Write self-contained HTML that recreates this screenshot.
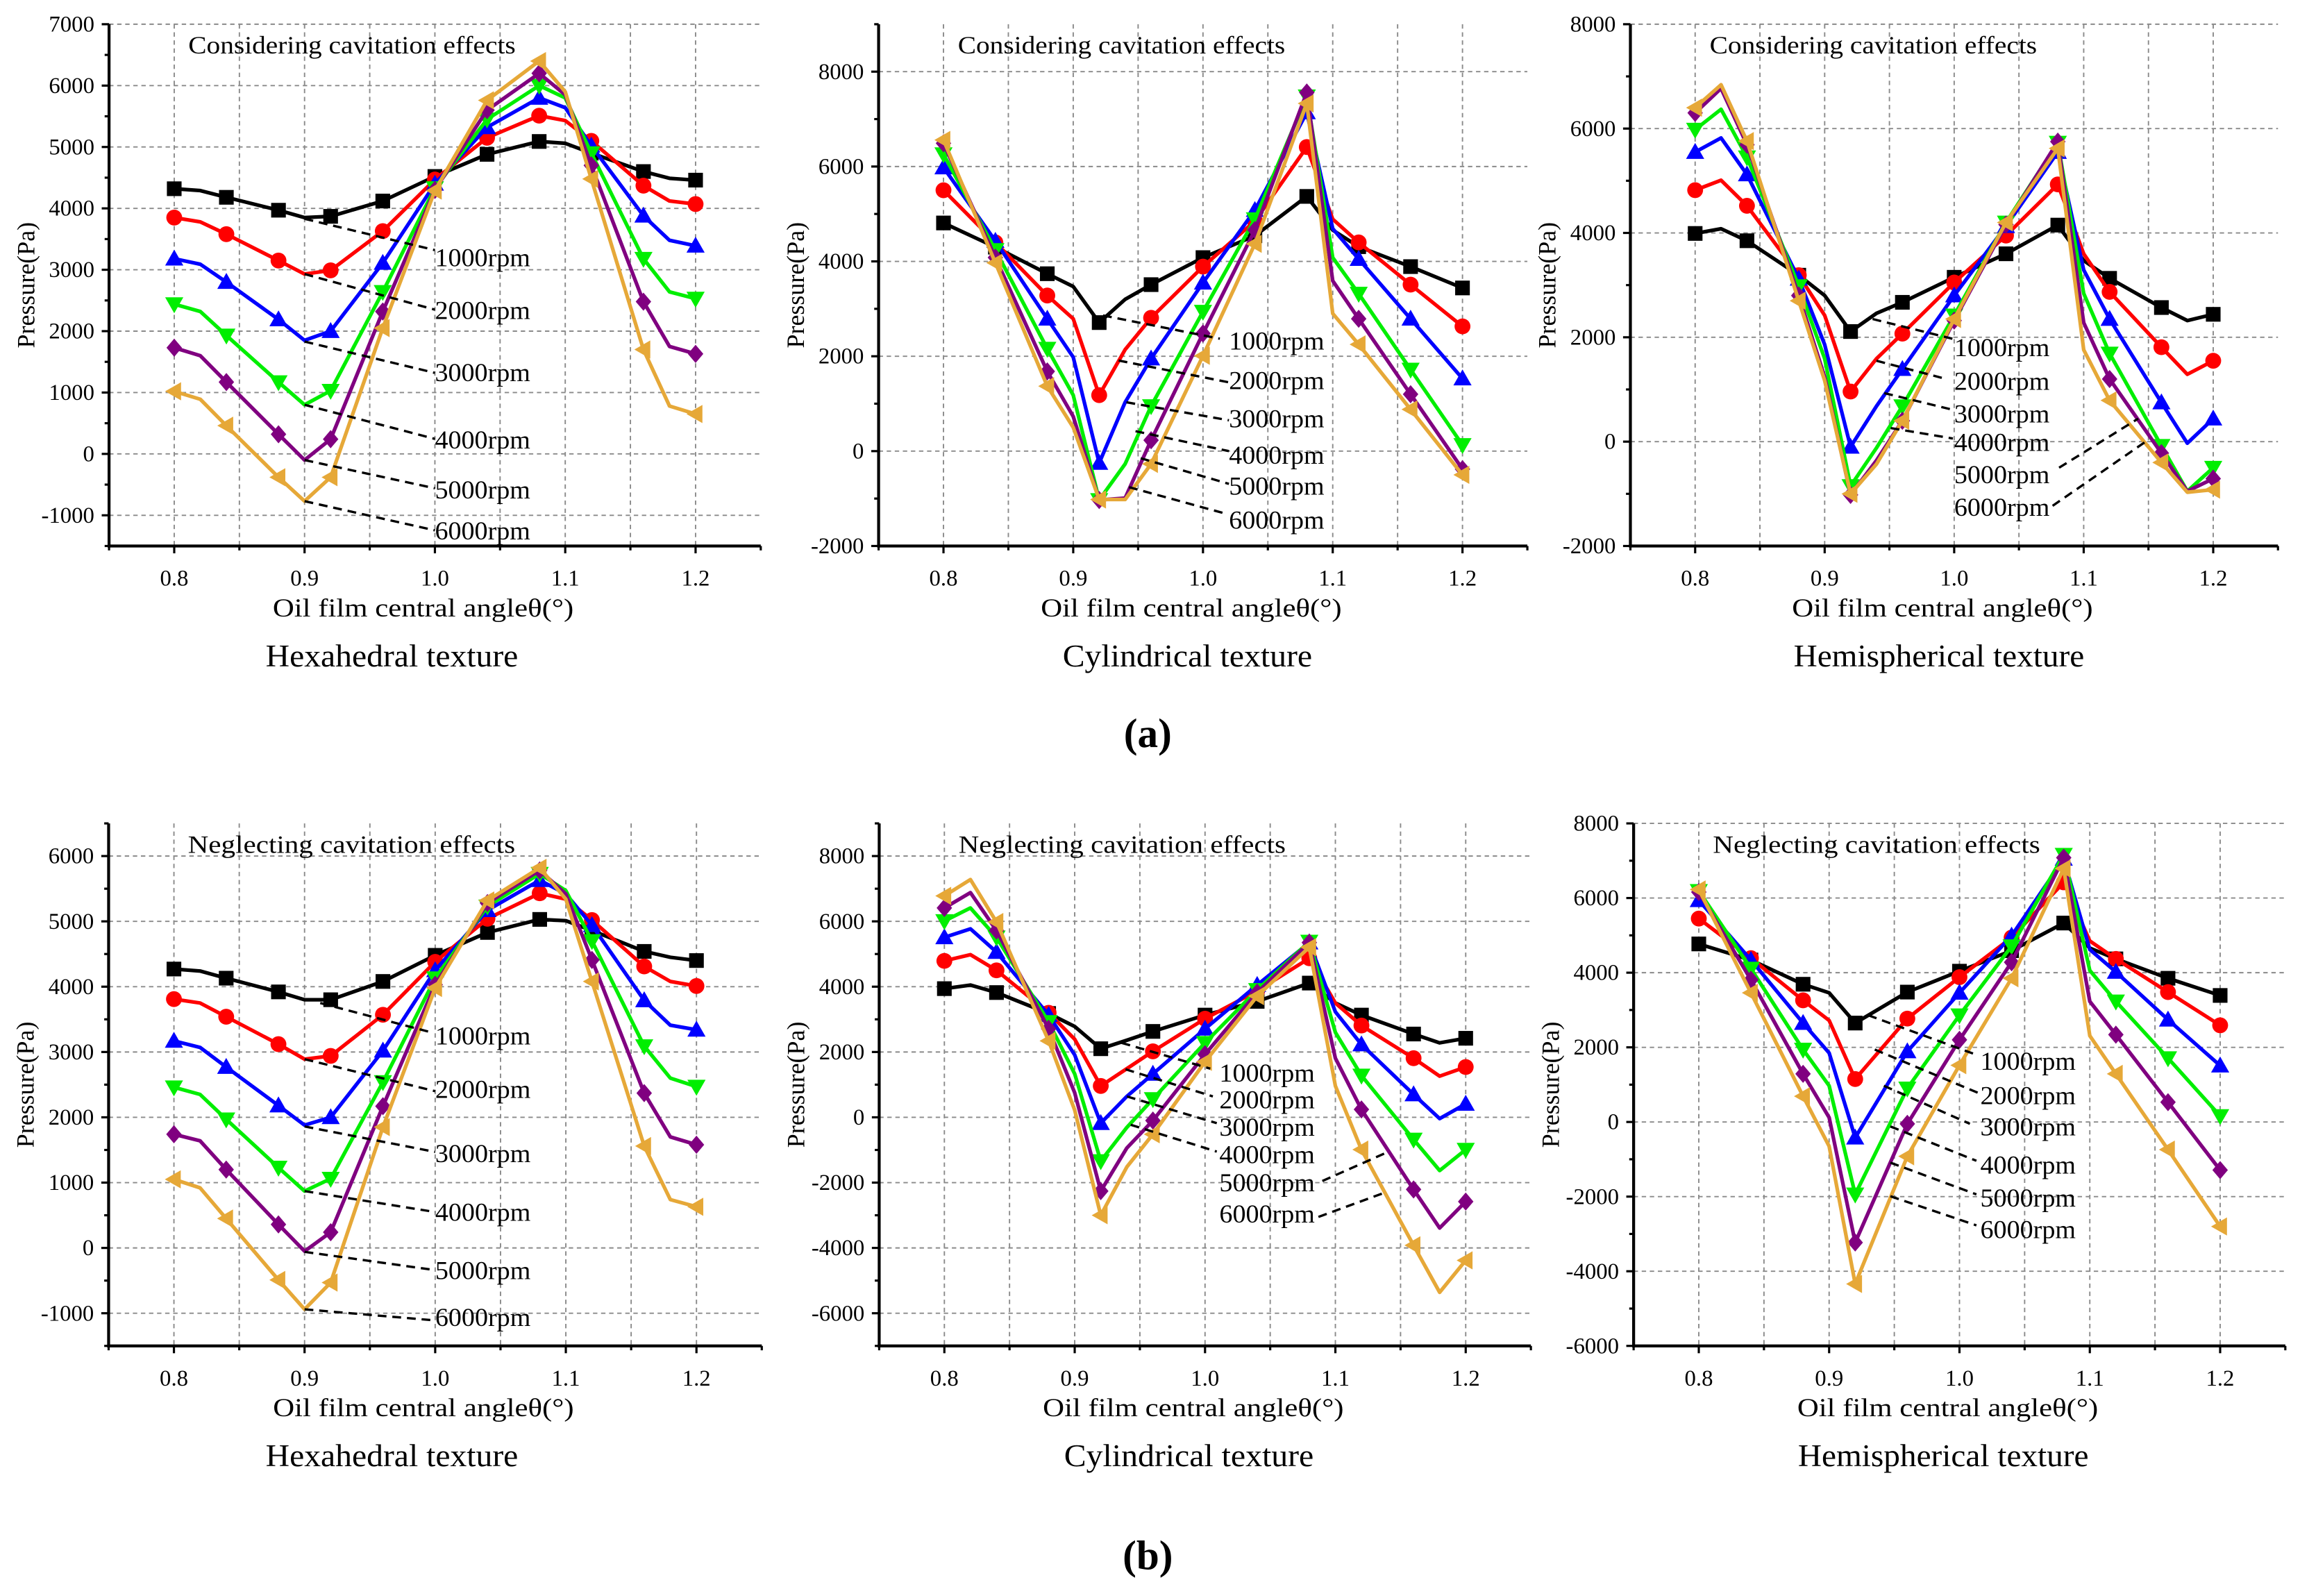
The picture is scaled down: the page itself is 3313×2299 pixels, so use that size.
<!DOCTYPE html>
<html><head><meta charset="utf-8"><style>
html,body{margin:0;padding:0;background:#fff;}
svg{display:block;font-family:"Liberation Serif",serif;}
</style></head><body>
<svg id="fig" xmlns="http://www.w3.org/2000/svg" width="3313" height="2299" viewBox="0 0 1567 1087.4"></svg>
<script>
// ---------- DATA ----------
const rpmLabels = ["1000rpm","2000rpm","3000rpm","4000rpm","5000rpm","6000rpm"];
const seriesColors = ["#000000","#ff0000","#0000ff","#00ee00","#800080","#e6a838"];
const markerShapes = ["square","circle","up","down","diamond","left"];
const xTickLabels = ["0.8","0.9","1.0","1.1","1.2"];
const xTickValues = [0.8,0.9,1.0,1.1,1.2];

const p1X = [0.8,0.82,0.84,0.88,0.9,0.92,0.96,1.0,1.04,1.08,1.1,1.12,1.16,1.18,1.2];
const p1S1000 = [4320,4290,4180,3970,3850,3870,4120,4520,4880,5090,5060,4900,4600,4490,4460];
const p1S2000 = [3850,3780,3580,3150,2930,2990,3630,4470,5150,5510,5430,5100,4370,4120,4070];
const p1S3000 = [3180,3090,2800,2190,1850,2000,3110,4400,5320,5800,5640,5020,3880,3480,3390];
const p1S4000 = [2440,2320,1930,1170,800,1030,2640,4330,5450,6000,5800,4900,3180,2640,2530];
const p1S5000 = [1730,1600,1170,320,-100,240,2320,4300,5600,6200,5850,4700,2480,1750,1630];
const p1S6000 = [1020,890,460,-380,-770,-380,2050,4290,5760,6400,5900,4480,1700,780,650];
const p1YTicks = [-1000,0,1000,2000,3000,4000,5000,6000,7000];

const p2X = [0.8,0.84,0.88,0.9,0.92,0.94,0.96,1.0,1.04,1.08,1.1,1.12,1.16,1.2];
const p2S1000 = [4810,4300,3740,3470,2710,3200,3510,4080,4540,5370,4660,4310,3890,3440];
const p2S2000 = [5500,4400,3280,2790,1180,2140,2810,3890,4850,6410,4890,4400,3510,2630];
const p2S3000 = [5980,4430,2790,1980,-250,1030,1950,3550,5080,7140,4690,4050,2790,1530];
const p2S4000 = [6260,4240,2160,1180,-1030,-270,950,2940,4890,7480,4080,3320,1720,130];
const p2S5000 = [6490,4080,1680,730,-1030,-990,230,2480,4660,7560,3590,2790,1200,-380];
const p2S6000 = [6560,3970,1370,500,-1020,-1020,-270,2010,4370,7330,2900,2250,880,-500];
const p2YTicks = [-2000,0,2000,4000,6000,8000];

const p3X = [0.8,0.82,0.84,0.88,0.9,0.92,0.94,0.96,1.0,1.04,1.08,1.1,1.12,1.16,1.18,1.2];
const p3S1000 = [3990,4080,3850,3190,2800,2110,2460,2670,3150,3600,4150,3470,3130,2570,2320,2440];
const p3S2000 = [4820,5010,4520,3190,2420,960,1590,2070,3050,3950,4930,3600,2870,1810,1290,1550];
const p3S3000 = [5550,5820,5120,3120,1860,-100,680,1390,2800,4130,5550,3290,2350,750,-30,440];
const p3S4000 = [5980,6370,5450,2980,1590,-850,-120,680,2420,4200,5730,2840,1690,-80,-950,-500];
const p3S5000 = [6300,6770,5690,2800,1240,-1020,-360,400,2320,4160,5750,2280,1200,-220,-950,-710];
const p3S6000 = [6400,6840,5760,2700,1170,-1000,-430,400,2350,4200,5620,1760,790,-400,-970,-920];
const p3YTicks = [-2000,0,2000,4000,6000,8000];

const p4X = [0.8,0.82,0.84,0.88,0.9,0.92,0.96,1.0,1.04,1.08,1.1,1.12,1.16,1.18,1.2];
const p4S1000 = [4270,4240,4130,3920,3800,3800,4080,4480,4830,5030,5010,4860,4540,4450,4400];
const p4S2000 = [3810,3750,3540,3120,2890,2940,3570,4380,5040,5430,5340,5020,4310,4080,4010];
const p4S3000 = [3170,3070,2770,2180,1880,2000,3020,4250,5170,5630,5420,4940,3790,3410,3340];
const p4S4000 = [2460,2350,1970,1230,870,1060,2540,4130,5230,5730,5470,4700,3090,2600,2470];
const p4S5000 = [1740,1640,1200,360,-50,240,2170,4030,5280,5780,5420,4410,2370,1700,1580];
const p4S6000 = [1050,920,450,-490,-940,-530,1850,3980,5320,5820,5340,4080,1560,740,630];
const p4YTicks = [-1000,0,1000,2000,3000,4000,5000,6000];

const p5X = [0.8,0.82,0.84,0.88,0.9,0.92,0.94,0.96,1.0,1.04,1.08,1.1,1.12,1.16,1.18,1.2];
const p5S1000 = [3940,4050,3820,3180,2780,2100,2360,2630,3130,3550,4110,3500,3130,2550,2280,2420];
const p5S2000 = [4790,4980,4500,3200,2390,960,1490,2020,3020,3870,4870,3500,2810,1810,1260,1540];
const p5S3000 = [5510,5770,5060,3130,1910,-180,640,1330,2710,4050,5350,3230,2230,700,-40,410];
const p5S4000 = [6010,6410,5510,2920,1330,-1340,-310,560,2280,3900,5380,2600,1280,-680,-1630,-990];
const p5S5000 = [6410,6880,5720,2710,750,-2260,-940,-100,1930,3820,5350,1810,240,-2210,-3390,-2580];
const p5S6000 = [6780,7280,5980,2340,220,-3000,-1520,-520,1700,3710,5210,960,-990,-3920,-5360,-4380];
const p5YTicks = [-6000,-4000,-2000,0,2000,4000,6000,8000];

const p6X = [0.8,0.84,0.88,0.9,0.92,0.96,1.0,1.04,1.08,1.1,1.12,1.16,1.2];
const p6S1000 = [4770,4340,3690,3460,2650,3480,4040,4590,5330,4660,4370,3850,3390];
const p6S2000 = [5450,4390,3260,2720,1150,2770,3880,4940,6420,4850,4370,3480,2590];
const p6S3000 = [5940,4340,2650,1850,-420,1890,3460,4990,7050,4620,4020,2740,1510];
const p6S4000 = [6190,4110,1940,970,-1940,900,2860,4710,7160,4060,3230,1710,160];
const p6S5000 = [6160,3810,1290,120,-3230,-50,2200,4280,7080,3230,2340,530,-1290];
const p6S6000 = [6230,3460,690,-650,-4340,-920,1520,3850,6790,2310,1290,-740,-2800];
const p6YTicks = [-6000,-4000,-2000,0,2000,4000,6000,8000];

const p1Leaders = [[0.9,3830,1.0,3320],[0.9,2930,1.0,2350],[0.9,1830,1.0,1320],[0.9,800,1.0,245],[0.9,-100,1.0,-560],[0.9,-770,1.0,-1245]];
const p1LabelPos = [[1.0,3200],[1.0,2340],[1.0,1330],[1.0,230],[1.0,-580],[1.0,-1250]];
const p2Leaders = [[0.923,2860,1.013,2370],[0.935,1910,1.02,1450],[0.941,1030,1.02,650],[0.948,420,1.02,0],[0.952,-150,1.02,-690],[0.943,-760,1.015,-1300]];
const p2LabelPos = [[1.02,2330],[1.02,1490],[1.02,690],[1.02,-80],[1.02,-730],[1.02,-1450]];
const p3Leaders = [[0.937,2350,0.999,1970],[0.94,1550,0.994,1200],[0.946,930,0.999,610],[0.951,260,0.999,60],[1.081,-500,1.142,440],[1.076,-1230,1.149,20]];
const p3LabelPos = [[1.0,1810],[1.0,1160],[1.0,540],[1.0,-10],[1.0,-630],[1.0,-1250]];
const p4Leaders = [[0.912,3750,0.997,3300],[0.9,2890,1.0,2400],[0.9,1860,1.0,1470],[0.9,870,1.0,550],[0.9,-60,1.0,-340],[0.9,-940,1.0,-1110]];
const p4LabelPos = [[1.0,3250],[1.0,2430],[1.0,1450],[1.0,550],[1.0,-340],[1.0,-1060]];
const p5Leaders = [[0.936,2280,1.004,1490],[0.939,1470,1.006,640],[0.94,640,1.009,-180],[0.943,-230,1.009,-1050],[1.09,-1950,1.141,-1050],[1.087,-3050,1.139,-2290]];
const p5LabelPos = [[1.011,1360],[1.011,540],[1.011,-290],[1.011,-1130],[1.011,-2000],[1.011,-2950]];
const p6Leaders = [[0.93,2860,1.013,1800],[0.935,1940,1.017,740],[0.942,970,1.008,-50],[0.947,-120,1.013,-1040],[0.947,-1090,1.013,-1940],[0.947,-1990,1.013,-2770]];
const p6LabelPos = [[1.016,1630],[1.016,710],[1.016,-120],[1.016,-1150],[1.016,-2030],[1.016,-2880]];

// ---------- LAYOUT ----------
const NS = "http://www.w3.org/2000/svg";
const svg = document.getElementById('fig');
function mk(tag, attrs, parent){
  const e = document.createElementNS(NS, tag);
  for (const k in attrs) e.setAttribute(k, attrs[k]);
  (parent||svg).appendChild(e);
  return e;
}
const panels = [
  {id:"a-hexahedral", X:p1X, S:[p1S1000,p1S2000,p1S3000,p1S4000,p1S5000,p1S6000], yt:p1YTicks, ymin:-1500, ymax:7000, L:p1Leaders, LP:p1LabelPos,
   g:{x0:74.3,x1:518.3,top:16.5,bot:372}, note:"Considering cavitation effects", title:"Hexahedral texture", tc:267, tw:172},
  {id:"a-cylindrical", X:p2X, S:[p2S1000,p2S2000,p2S3000,p2S4000,p2S5000,p2S6000], yt:p2YTicks, ymin:-2000, ymax:9000, L:p2Leaders, LP:p2LabelPos,
   g:{x0:598.6,x1:1040.6,top:16.5,bot:372}, note:"Considering cavitation effects", title:"Cylindrical texture", tc:809, tw:170},
  {id:"a-hemispherical", X:p3X, S:[p3S1000,p3S2000,p3S3000,p3S4000,p3S5000,p3S6000], yt:p3YTicks, ymin:-2000, ymax:8000, L:p3Leaders, LP:p3LabelPos,
   g:{x0:1110.8,x1:1552,top:16.5,bot:372}, note:"Considering cavitation effects", title:"Hemispherical texture", tc:1321, tw:198},
  {id:"b-hexahedral", X:p4X, S:[p4S1000,p4S2000,p4S3000,p4S4000,p4S5000,p4S6000], yt:p4YTicks, ymin:-1500, ymax:6500, L:p4Leaders, LP:p4LabelPos,
   g:{x0:74,x1:519,top:561,bot:917}, note:"Neglecting cavitation effects", title:"Hexahedral texture", tc:267, tw:172},
  {id:"b-cylindrical", X:p5X, S:[p5S1000,p5S2000,p5S3000,p5S4000,p5S5000,p5S6000], yt:p5YTicks, ymin:-7000, ymax:9000, L:p5Leaders, LP:p5LabelPos,
   g:{x0:599,x1:1043,top:561,bot:917}, note:"Neglecting cavitation effects", title:"Cylindrical texture", tc:810, tw:170},
  {id:"b-hemispherical", X:p6X, S:[p6S1000,p6S2000,p6S3000,p6S4000,p6S5000,p6S6000], yt:p6YTicks, ymin:-6000, ymax:8000, L:p6Leaders, LP:p6LabelPos,
   g:{x0:1113,x1:1557,top:561,bot:917}, note:"Neglecting cavitation effects", title:"Hemispherical texture", tc:1324, tw:198}
];

function drawMarker(parent, shape, cx, cy, color){
  const r = 5;
  let el;
  if (shape==="square") el = mk('rect',{x:cx-r,y:cy-r,width:2*r,height:2*r,fill:color},parent);
  else if (shape==="circle") el = mk('circle',{cx:cx,cy:cy,r:r+0.4,fill:color},parent);
  else {
    let pts;
    const s = r+1.2;
    if (shape==="up") pts=[[cx,cy-s],[cx+s,cy+s*0.75],[cx-s,cy+s*0.75]];
    else if (shape==="down") pts=[[cx,cy+s],[cx+s,cy-s*0.75],[cx-s,cy-s*0.75]];
    else if (shape==="left") pts=[[cx-s,cy],[cx+s*0.75,cy-s],[cx+s*0.75,cy+s]];
    else pts=[[cx,cy-s],[cx+s*0.85,cy],[cx,cy+s],[cx-s*0.85,cy]];
    el = mk('polygon',{points:pts.map(p=>p.join(',')).join(' '),fill:color},parent);
  }
  return el;
}

panels.forEach((P)=>{
  const g = P.g;
  const xs = v => g.x0 + (v-0.75)/0.5*(g.x1-g.x0);
  const ys = v => g.bot - (v-P.ymin)/(P.ymax-P.ymin)*(g.bot-g.top);
  const grp = mk('g',{});
  
  

  const grid = mk('g',{stroke:"#8a8a8a","stroke-width":0.9,"stroke-dasharray":"3,2.5",fill:"none"},grp);
  
  
  for (let i=0;i<=8;i++){ const v=0.8+i*0.05; mk('line',{x1:xs(v),x2:xs(v),y1:g.top,y2:g.bot},grid); }
  P.yt.forEach(v=>{ mk('line',{x1:g.x0,x2:g.x1,y1:ys(v),y2:ys(v)},grid); });

  const ax = mk('g',{stroke:"#000","stroke-width":2,fill:"none"},grp);
  
  
  mk('line',{x1:g.x0,x2:g.x0,y1:g.top,y2:g.bot+1},ax);
  mk('line',{x1:g.x0-1,x2:g.x1,y1:g.bot,y2:g.bot},ax);
  const step = P.yt[1]-P.yt[0];
  for (let v=P.ymin; v<=P.ymax+1; v+=step/2){
    const major = P.yt.indexOf(v)>=0;
    mk('line',{x1:g.x0-(major?5:3),x2:g.x0,y1:ys(v),y2:ys(v),"stroke-width":1.5},ax);
  }
  for (let i=0;i<=10;i++){ const v=0.75+i*0.05; const major=(i%2===1);
    mk('line',{x1:xs(v),x2:xs(v),y1:g.bot,y2:g.bot+(major?5:3),"stroke-width":1.5},ax); }

  P.yt.forEach(v=>{
    const t = mk('text',{x:g.x0-10,y:ys(v)+5,"text-anchor":"end","font-size":15.5},grp);
    t.textContent = String(v);
    
    
  });
  xTickValues.forEach((v,i)=>{
    const t = mk('text',{x:xs(v),y:g.bot+27,"text-anchor":"middle","font-size":15.5},grp);
    t.textContent = xTickLabels[i];
    
    
  });
  const cx = (g.x0+g.x1)/2, cy=(g.top+g.bot)/2;
  const yt = mk('text',{x:0,y:0,"text-anchor":"middle","font-size":17,transform:`translate(${g.x0-51},${cy}) rotate(-90)`},grp);
  yt.textContent = "Pressure(Pa)";
  
  
  const xt = mk('text',{x:cx-8,y:g.bot+48,"text-anchor":"middle","font-size":17.5,textLength:205,lengthAdjust:"spacingAndGlyphs"},grp);
  xt.textContent = "Oil film central angleθ(°)";
  
  
  const pt = mk('text',{x:P.tc,y:g.bot+82,"text-anchor":"middle","font-size":21.5,textLength:P.tw,lengthAdjust:"spacingAndGlyphs"},grp);
  pt.textContent = P.title;
  
  
  const nt = mk('text',{x:g.x0+54,y:g.top+20,"font-size":17,textLength:223,lengthAdjust:"spacingAndGlyphs"},grp);
  nt.textContent = P.note;
  
  

  P.S.forEach((vals,si)=>{
    const sg = mk('g',{},grp);
    
    
    const pts = P.X.map((x,i)=>xs(x).toFixed(2)+','+ys(vals[i]).toFixed(2)).join(' ');
    const pl = mk('polyline',{points:pts,fill:"none",stroke:seriesColors[si],"stroke-width":2.5,"stroke-linejoin":"round"},sg);
    
    
    P.X.forEach((x,i)=>{
      const k=(x-0.8)/0.04;
      if (Math.abs(k-Math.round(k))<1e-6){
        const m = drawMarker(sg, markerShapes[si], xs(x), ys(vals[i]), seriesColors[si]);
        
        
      }
    });
  });

  P.L.forEach((l,i)=>{
    const ln = mk('line',{x1:xs(l[0]),y1:ys(l[1]),x2:xs(l[2]),y2:ys(l[3]),stroke:"#000","stroke-width":1.6,"stroke-dasharray":"6,4"},grp);
    
    
    const t = mk('text',{x:xs(P.LP[i][0]),y:ys(P.LP[i][1])+6,"font-size":17.5,textLength:65,lengthAdjust:"spacingAndGlyphs"},grp);
    t.textContent = rpmLabels[i];
    
    
  });
});

const la = mk('text',{x:782,y:509,"text-anchor":"middle","font-size":28,"font-weight":"bold"});
la.textContent = "(a)";


const lb = mk('text',{x:782,y:1069,"text-anchor":"middle","font-size":28,"font-weight":"bold"});
lb.textContent = "(b)";


</script>
</body></html>
